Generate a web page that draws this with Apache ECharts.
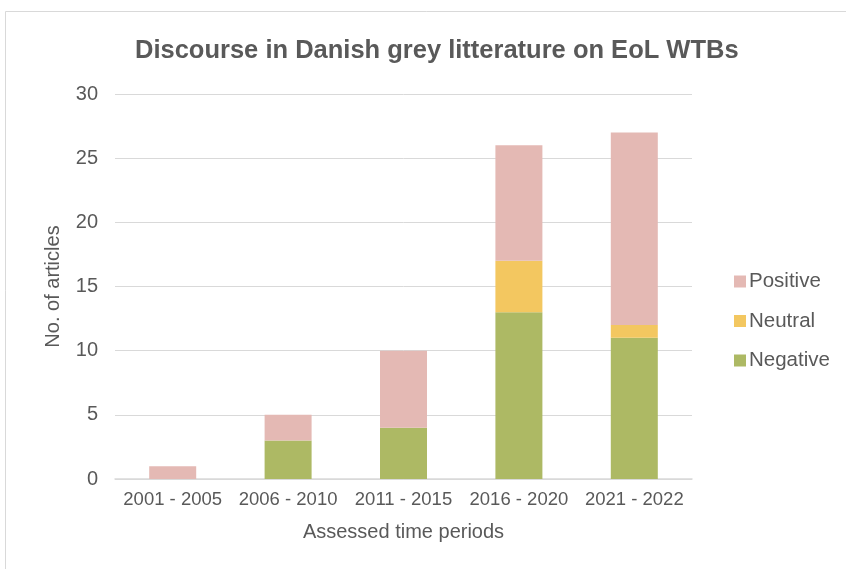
<!DOCTYPE html>
<html><head><meta charset="utf-8">
<script src="https://cdn.jsdelivr.net/npm/echarts@6/dist/echarts.min.js"></script>
<style>html,body{margin:0;padding:0;background:#fff}#c{width:846px;height:569px}</style>
</head><body><div id="c"></div>
<script>
const categories = ['2001 - 2005','2006 - 2010','2011 - 2015','2016 - 2020','2021 - 2022'];
const negative = [0, 3, 4, 13, 11];
const neutral = [0, 0, 0, 4, 1];
const positive = [1, 2, 6, 9, 15];
const chart = echarts.init(document.getElementById('c'), null, {renderer:'canvas'});
const font = 'Liberation Sans, Arial, sans-serif';
const grey = '#595959';
chart.setOption({
  animation:false,
  backgroundColor:'#fff',
  graphic:[{type:'rect', shape:{x:5.5,y:11.5,width:860,height:580}, style:{fill:'none', stroke:'#d9d9d9', lineWidth:1}}],
  title:{text:'Discourse in Danish grey litterature on EoL WTBs', top:33, textStyle:{fontFamily:font, fontSize:25.5, fontWeight:'bold', color:grey}, left:130},
  legend:{orient:'vertical', left:729, top:266, itemWidth:12, itemHeight:12, itemGap:18.5, icon:'rect',
    data:['Positive','Neutral','Negative'], textStyle:{fontFamily:font, fontSize:20.5, color:grey, padding:[0,0,0,-2]}},
  grid:{left:115, right:154, top:94, bottom:90},
  xAxis:{type:'category', data:categories, name:'Assessed time periods', nameLocation:'middle', nameGap:43,
    nameTextStyle:{fontFamily:font, fontSize:20, color:grey},
    axisLine:{lineStyle:{color:'#d9d9d9', width:1.5}}, axisTick:{show:false},
    axisLabel:{fontFamily:font, fontSize:18.5, color:grey, margin:11, interval:0, hideOverlap:false}},
  yAxis:{type:'value', min:0, max:30, interval:5, name:'No. of articles', nameLocation:'middle', nameGap:52,
    nameTextStyle:{fontFamily:font, fontSize:20, color:grey},
    axisLine:{show:false}, axisTick:{show:false},
    axisLabel:{fontFamily:font, fontSize:20, color:grey, margin:17},
    splitLine:{lineStyle:{color:'#d9d9d9', width:1}}},
  series:[
    {name:'Negative', type:'bar', stack:'a', data:negative, barWidth:47, itemStyle:{color:'#adb964'}},
    {name:'Neutral', type:'bar', stack:'a', data:neutral, barWidth:47, itemStyle:{color:'#f3c760'}},
    {name:'Positive', type:'bar', stack:'a', data:positive, barWidth:47, itemStyle:{color:'#e4b9b4'}}
  ]
});
</script></body></html>
